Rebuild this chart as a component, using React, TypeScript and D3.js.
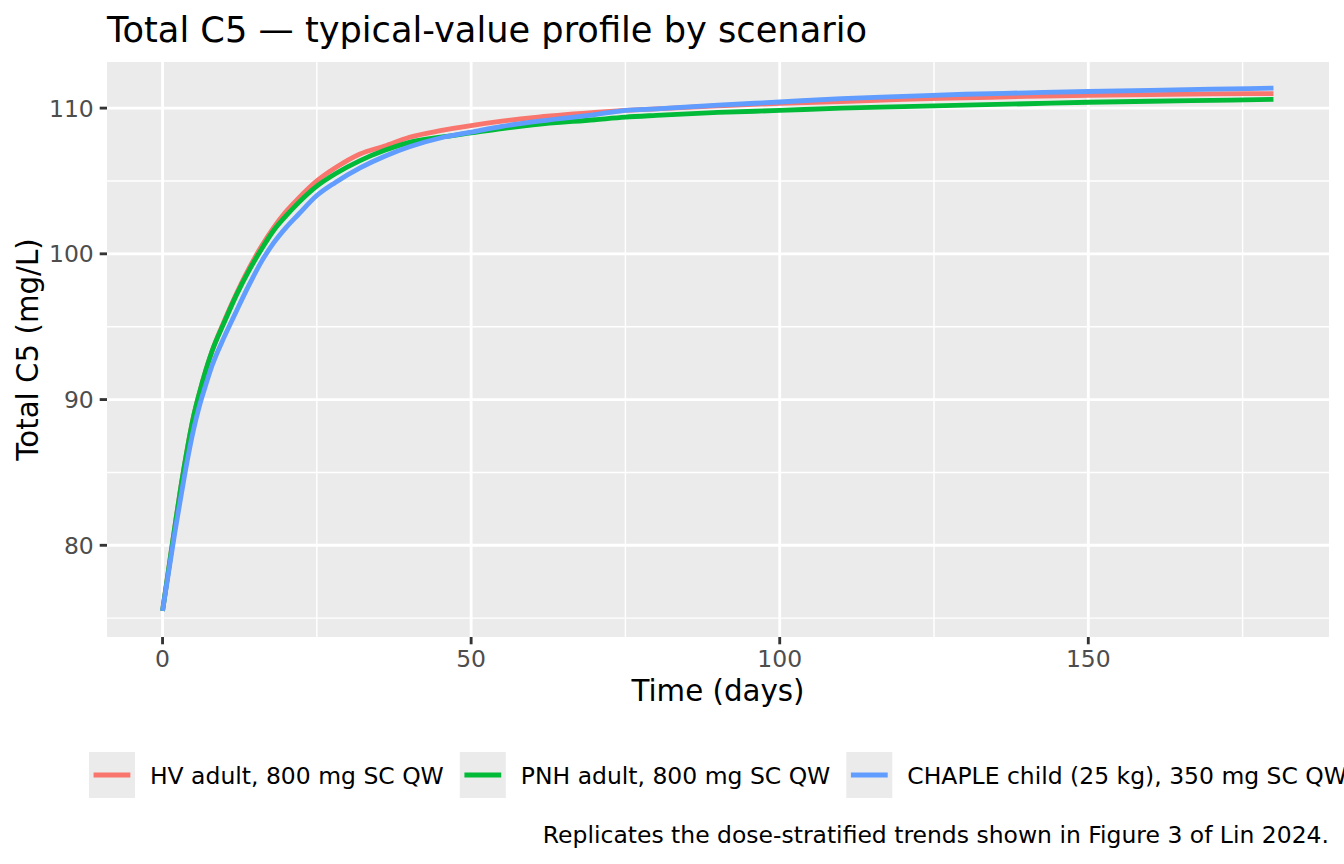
import React, { useMemo } from "react";
import * as d3 from "d3";

const W = 1344;
const H = 864;

// time grid (days) shared by the three scenarios
const days = [0, 1, 2, 3, 4, 5, 6, 7, 8, 10, 12, 14, 16, 18, 20, 22, 25, 28, 32, 36, 40, 45, 50, 55, 60, 70, 75, 80, 90, 100, 110, 120, 130, 140, 150, 160, 170, 180];

const hvAdult = [75.5, 78.4, 81.3, 84.1, 86.6, 88.8, 90.5, 92.0, 93.3, 95.4, 97.3, 99.0, 100.5, 101.8, 102.9, 103.8, 105.0, 105.9, 106.85, 107.4, 108.0, 108.45, 108.8, 109.1, 109.35, 109.7, 109.84, 109.95, 110.15, 110.33, 110.45, 110.6, 110.7, 110.8, 110.87, 110.92, 110.97, 111.0];
const pnhAdult = [75.5, 78.4, 81.3, 84.1, 86.6, 88.8, 90.5, 92.0, 93.3, 95.3, 97.2, 98.85, 100.3, 101.6, 102.6, 103.5, 104.65, 105.5, 106.4, 107.1, 107.65, 108.0, 108.3, 108.6, 108.85, 109.2, 109.38, 109.5, 109.7, 109.84, 110.0, 110.1, 110.2, 110.3, 110.4, 110.47, 110.53, 110.6];
const chapleChild = [75.5, 78.2, 80.9, 83.4, 85.8, 87.9, 89.6, 91.0, 92.3, 94.3, 96.1, 97.85, 99.45, 100.75, 101.8, 102.7, 104.0, 104.9, 105.9, 106.7, 107.35, 107.95, 108.35, 108.75, 109.05, 109.55, 109.84, 109.95, 110.2, 110.42, 110.65, 110.8, 110.95, 111.05, 111.14, 111.22, 111.3, 111.37];

const scenarios = ["HV adult, 800 mg SC QW", "PNH adult, 800 mg SC QW", "CHAPLE child (25 kg), 350 mg SC QW"];
const seriesValues = [hvAdult, pnhAdult, chapleChild];
const colors = ["#F8766D", "#00BA38", "#619CFF"];

const xTicks = [0, 50, 100, 150];
const xMinor = [25, 75, 125, 175];
const yTicks = [80, 90, 100, 110];
const yMinor = [75, 85, 95, 105];

const FONT = "DejaVu Sans";
const SMALL = 23.47;

const margin = { left: 107, right: 1329, top: 62, bottom: 637 };

function measure(text: string, size: number) {
  const c = document.createElement("canvas").getContext("2d");
  if (!c) return text.length * size * 0.55;
  c.font = `${size}px "${FONT}"`;
  return c.measureText(text).width;
}

export default function App() {
  const allY = seriesValues.flat();
  const yMin = d3.min(allY)!;
  const yMax = d3.max(allY)!;
  const ySpan = yMax - yMin;
  const x = d3.scaleLinear().domain([0 - 180 * 0.05, 180 + 180 * 0.05]).range([margin.left, margin.right]);
  const y = d3.scaleLinear().domain([yMin - ySpan * 0.05, yMax + ySpan * 0.05]).range([margin.bottom, margin.top]);

  const line = d3
    .line<[number, number]>()
    .x((d) => x(d[0]))
    .y((d) => y(d[1]))
    .curve(d3.curveMonotoneX);

  const legend = useMemo(() => {
    const key = 46;
    const gapKeyText = 15;
    const gapItems = 16;
    const widths = scenarios.map((s) => measure(s, SMALL));
    const total = widths.reduce((a, b) => a + b, 0) + scenarios.length * (key + gapKeyText) + (scenarios.length - 1) * gapItems;
    const center = (margin.left + margin.right) / 2;
    let cx = center - total / 2;
    return scenarios.map((s, i) => {
      const item = { label: s, x: cx, textX: cx + key + gapKeyText, color: colors[i] };
      cx += key + gapKeyText + widths[i] + gapItems;
      return item;
    });
  }, []);

  const panelW = margin.right - margin.left;
  const panelH = margin.bottom - margin.top;

  return (
    <div style={{ position: "absolute", left: 0, top: 0 }}>
      <svg width={W} height={H} style={{ display: "block", fontFamily: FONT }}>
        <rect x={0} y={0} width={W} height={H} fill="white" />
        <text x={margin.left} y={42} fontSize={35.2} fill="black">
          Total C5 — typical-value profile by scenario
        </text>

        <rect x={margin.left} y={margin.top} width={panelW} height={panelH} fill="#EBEBEB" />
        <clipPath id="panel">
          <rect x={margin.left} y={margin.top} width={panelW} height={panelH} />
        </clipPath>
        <g clipPath="url(#panel)">
          {yMinor.map((t) => (
            <line key={`ym${t}`} x1={margin.left} x2={margin.right} y1={y(t)} y2={y(t)} stroke="white" strokeWidth={1.42} />
          ))}
          {xMinor.map((t) => (
            <line key={`xm${t}`} x1={x(t)} x2={x(t)} y1={margin.top} y2={margin.bottom} stroke="white" strokeWidth={1.42} />
          ))}
          {yTicks.map((t) => (
            <line key={`y${t}`} x1={margin.left} x2={margin.right} y1={y(t)} y2={y(t)} stroke="white" strokeWidth={2.85} />
          ))}
          {xTicks.map((t) => (
            <line key={`x${t}`} x1={x(t)} x2={x(t)} y1={margin.top} y2={margin.bottom} stroke="white" strokeWidth={2.85} />
          ))}
          {seriesValues.map((vals, i) => (
            <path
              key={scenarios[i]}
              d={line(days.map((d, j) => [d, vals[j]] as [number, number])) ?? ""}
              fill="none"
              stroke={colors[i]}
              strokeWidth={4.8}
              strokeLinejoin="round"
            />
          ))}
        </g>

        {/* axes */}
        {xTicks.map((t) => (
          <g key={`xt${t}`}>
            <line x1={x(t)} x2={x(t)} y1={margin.bottom} y2={margin.bottom + 7.3} stroke="#333333" strokeWidth={2.85} />
            <text x={x(t)} y={667} textAnchor="middle" fontSize={SMALL} fill="#4D4D4D">
              {t}
            </text>
          </g>
        ))}
        {yTicks.map((t) => (
          <g key={`yt${t}`}>
            <line x1={margin.left - 7.3} x2={margin.left} y1={y(t)} y2={y(t)} stroke="#333333" strokeWidth={2.85} />
            <text x={margin.left - 13.2} y={y(t) + 8.5} textAnchor="end" fontSize={SMALL} fill="#4D4D4D">
              {t}
            </text>
          </g>
        ))}
        <text x={(margin.left + margin.right) / 2} y={701} textAnchor="middle" fontSize={29.3} fill="black">
          Time (days)
        </text>
        <text
          transform={`translate(38,${(margin.top + margin.bottom) / 2}) rotate(-90)`}
          textAnchor="middle"
          fontSize={29.3}
          fill="black"
        >
          Total C5 (mg/L)
        </text>

        {/* legend */}
        {legend.map((l) => (
          <g key={l.label}>
            <rect x={l.x} y={752} width={46} height={46} fill="#EBEBEB" />
            <line x1={l.x + 4.6} x2={l.x + 41.4} y1={775} y2={775} stroke={l.color} strokeWidth={4.8} />
            <text x={l.textX} y={783.5} fontSize={SMALL} fill="black">
              {l.label}
            </text>
          </g>
        ))}

        <text x={margin.right} y={843} textAnchor="end" fontSize={SMALL} fill="black">
          Replicates the dose-stratified trends shown in Figure 3 of Lin 2024.
        </text>
      </svg>
    </div>
  );
}
